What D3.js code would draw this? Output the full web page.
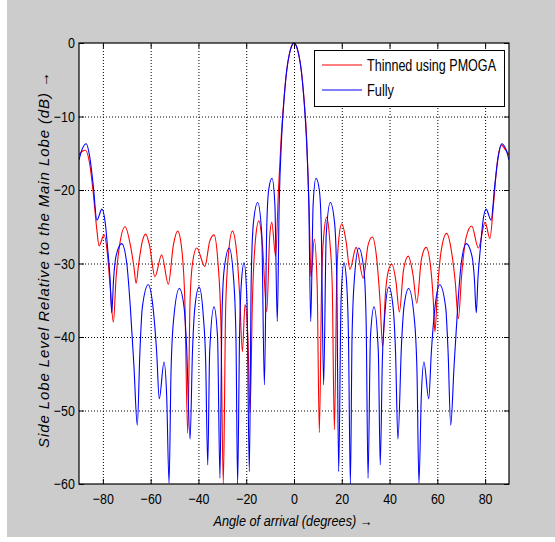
<!DOCTYPE html>
<html><head><meta charset="utf-8">
<script src="https://cdn.jsdelivr.net/npm/d3@7"></script>
<style>body{margin:0;background:#fff}svg{display:block}</style>
</head><body><svg id="c" width="555" height="542"></svg>
<script>
const xTicks=[-80,-60,-40,-20,0,20,40,60,80];
const yTicks=[-60,-50,-40,-30,-20,-10,0];
const seriesNames=["Thinned using PMOGA","Fully"];
const seriesColors=["#ff0000","#0000ff"];

const thinnedAngle=[-90,-88.5,-87.3,-85.5,-84,-82.5,-81.6,-79.5,-78,-77,-75.6,-74.5,-73,-70.7,-68.5,-67,-66.1,-65,-63.5,-62.1,-60.5,-58.2,-55.4,-52.6,-50.5,-48.7,-47,-45.7,-44.5,-43.5,-42.5,-40.7,-37.3,-35.3,-33.5,-31.8,-30.6,-29.6,-28.6,-27.5,-25.8,-24,-22.8,-21.6,-20.5,-19.3,-18.4,-17.4,-16.2,-14.7,-13.2,-11.4,-10.2,-9.3,-7.7,-6.5,-5.3,-4,-3,-2,-1,0,1,2,3,4,5.3,6.3,7.1,8.5,9.7,10.6,11.6,12.5,13.7,15,16,16.9,17.9,18.8,20,21.8,23.4,26,29,31,32.8,34.5,36,37.1,38.3,39.5,40.9,42.7,44.1,45.8,47.8,49.8,51.4,53.3,55.3,57.2,58.3,59,60,61.5,63.9,66,67.5,68.8,70.2,72,74.4,77.2,80,82,83.5,85,86.8,88.5,90];
const thinnedDb=[-15.2,-14.7,-14.6,-16.5,-20.5,-25.5,-27.6,-26.1,-29,-33,-38,-32,-27.5,-25,-27.5,-30.5,-32.7,-30,-27,-26,-27.5,-31.8,-28.8,-32.8,-27.5,-25.6,-28,-35,-53.1,-35,-30,-27.9,-30.4,-27,-26.1,-30,-38,-60,-36,-29,-25.6,-28.5,-34,-42,-35.6,-40,-50.3,-35,-27,-24.2,-27.5,-36.6,-26.5,-24.4,-29,-20,-12.5,-6.8,-3.6,-1.6,-0.4,0,-0.4,-1.6,-3.6,-6.8,-13,-22,-31.8,-26.7,-33,-53,-32,-26,-23.7,-27,-33,-52.6,-32,-26.5,-24.6,-27,-30.8,-27.8,-32,-27.5,-26.4,-29,-35,-41.3,-34,-31,-30.1,-32.5,-36.6,-31,-29,-31.5,-35.4,-29.5,-27.8,-30.5,-35,-39.3,-34,-28.5,-25.9,-28.5,-32.5,-37.5,-31.5,-26.5,-24.9,-27.9,-24.4,-26.6,-22,-16.5,-13.9,-14.5,-15.2];

const fullyAngle=[-90,-88.5,-87,-85.5,-84,-82.5,-80.4,-79,-78,-77,-76.3,-75.5,-74.5,-72.1,-70,-68.5,-67,-65.6,-64.5,-63.5,-61,-59,-57.5,-56.4,-54.4,-53.3,-52.3,-51.5,-50.5,-48,-46,-45,-43.5,-42.5,-41.5,-39.7,-38,-37,-36.1,-35.3,-33.5,-32,-31,-30.2,-29.3,-27.1,-25.3,-24.3,-23.6,-22.8,-22,-20.9,-19.7,-18.7,-17.9,-17,-15.2,-13.5,-12.4,-11.4,-10.6,-9.2,-8,-7,-6.2,-5.2,-4,-3,-2,-1,0,1,2,3,4,5.2,6.2,7,8,9.2,10.6,11.4,12.4,13.5,15.2,17,17.9,18.7,19.7,20.9,22,22.8,23.6,24.3,25.3,27.1,29.3,30.2,31,32,33.5,35.3,36.1,37,38,39.7,41.5,42.5,43.5,45,46,48,50.5,51.5,52.3,53.3,54.4,56.4,57.5,59,61,63.5,64.5,65.6,67,68.5,70,72.1,74.5,75.5,76.3,77,78,79,80.4,82.5,84,85.5,87,88.5,90];
const fullyDb=[-15.9,-14.3,-13.7,-15.5,-19.5,-24.1,-22.6,-24.5,-28,-32,-36.7,-32,-29,-27.3,-30,-36,-44,-52,-42,-36,-32.9,-36,-42,-48.4,-43.4,-48,-59.9,-45,-38,-33.4,-36,-41,-53.9,-42,-36,-33.2,-37,-43,-57.4,-42,-35.9,-40,-59.2,-38,-31,-27.9,-32,-40,-60,-40,-32.5,-29.9,-35,-58.3,-32,-24.5,-21.7,-26,-46.5,-25,-20,-18.4,-22,-37.9,-22,-13,-7,-3.6,-1.6,-0.4,0,-0.4,-1.6,-3.6,-7,-13,-22,-37.9,-22,-18.4,-20,-25,-46.5,-26,-21.7,-24.5,-32,-58.3,-35,-29.9,-32.5,-40,-60,-40,-32,-27.9,-31,-38,-59.2,-40,-35.9,-42,-57.4,-43,-37,-33.2,-36,-42,-53.9,-41,-36,-33.4,-38,-45,-59.9,-48,-43.4,-48.4,-42,-36,-32.9,-36,-42,-52,-44,-36,-30,-27.3,-29,-32,-36.7,-32,-28,-24.5,-22.6,-24.1,-19.5,-15.5,-13.7,-14.3,-15.9];

const W=555,H=542;
const L=79,R=509,T=43,B=484;
const svg=d3.select("#c");
svg.append("rect").attr("x",0).attr("y",0).attr("width",W).attr("height",H).attr("fill","#ffffff");
svg.append("rect").attr("x",7).attr("y",0).attr("width",W-7).attr("height",H-5).attr("fill","#cccccc");
svg.append("rect").attr("x",L).attr("y",T).attr("width",R-L).attr("height",B-T).attr("fill","#fff");

const x=d3.scaleLinear().domain([-90,90]).range([L,R]);
const y=d3.scaleLinear().domain([-60,0]).range([B,T]);
const font="'Liberation Sans', Arial, Helvetica, sans-serif";

// grid
const gx=svg.append("g").attr("transform",`translate(0,${B})`)
  .call(d3.axisBottom(x).tickValues(xTicks).tickSize(-(B-T)).tickFormat(""));
gx.select(".domain").remove();
gx.selectAll("line").attr("stroke","#000").attr("stroke-dasharray","1,2").attr("stroke-width",1);
const gy=svg.append("g").attr("transform",`translate(${L},0)`)
  .call(d3.axisLeft(y).tickValues(yTicks.filter(v=>v>-60&&v<0)).tickSize(-(R-L)).tickFormat(""));
gy.select(".domain").remove();
gy.selectAll("line").attr("stroke","#000").attr("stroke-dasharray","1,2").attr("stroke-width",1);

// lines
svg.append("clipPath").attr("id","pc").append("rect").attr("x",L).attr("y",T-2).attr("width",R-L).attr("height",B-T+2);
const line=d3.line().x(d=>x(d[0])).y(d=>y(d[1])).curve(d3.curveMonotoneX);
const thinned=thinnedAngle.map((a,i)=>[a,thinnedDb[i]]);
const fully=fullyAngle.map((a,i)=>[a,fullyDb[i]]);
[thinned,fully].forEach((s,i)=>{
  svg.append("path").attr("clip-path","url(#pc)").attr("d",line(s))
    .attr("fill","none").attr("stroke",seriesColors[i]).attr("stroke-width",1.1);
});

// axes ticks
function styleAxis(g){
  g.select(".domain").remove();
  g.selectAll("line").attr("stroke","#000");
  g.selectAll("text").attr("font-family",font).attr("font-size",15).attr("fill","#000");
}
const ab=svg.append("g").attr("transform",`translate(0,${B})`)
  .call(d3.axisBottom(x).tickValues(xTicks).tickSize(-5).tickPadding(9).tickFormat(d3.format("d")));
styleAxis(ab);
ab.selectAll("text").attr("transform","scale(0.83,1)");
const at=svg.append("g").attr("transform",`translate(0,${T})`)
  .call(d3.axisTop(x).tickValues(xTicks).tickSize(-5).tickFormat(""));
styleAxis(at);
const al=svg.append("g").attr("transform",`translate(${L},0)`)
  .call(d3.axisLeft(y).tickValues(yTicks).tickSize(-5).tickPadding(5).tickFormat(d3.format("d")));
styleAxis(al);
al.selectAll("text").attr("transform","scale(0.83,1)");
const ar=svg.append("g").attr("transform",`translate(${R},0)`)
  .call(d3.axisRight(y).tickValues(yTicks).tickSize(-5).tickFormat(""));
styleAxis(ar);

// box
svg.append("rect").attr("x",L).attr("y",T).attr("width",R-L).attr("height",B-T)
  .attr("fill","none").attr("stroke","#000").attr("stroke-width",1.2);

// legend
const lg=svg.append("g");
lg.append("rect").attr("x",314.5).attr("y",50.5).attr("width",190).attr("height",56)
  .attr("fill","#fff").attr("stroke","#000").attr("stroke-width",1);
const legY=[65,90];
const legW=[129,27];
seriesNames.forEach((n,i)=>{
  lg.append("line").attr("x1",322).attr("x2",362).attr("y1",legY[i]).attr("y2",legY[i])
    .attr("stroke",seriesColors[i]).attr("stroke-width",1.1);
  lg.append("text").attr("x",367).attr("y",legY[i]+6).attr("font-family",font).attr("font-size",16)
    .attr("textLength",legW[i]).attr("lengthAdjust","spacingAndGlyphs").text(n);
});

// axis labels
svg.append("text").attr("x",293).attr("y",526).attr("text-anchor","middle")
  .attr("font-family",font).attr("font-size",14).attr("font-style","italic")
  .attr("textLength",159).attr("lengthAdjust","spacingAndGlyphs")
  .text("Angle of arrival (degrees) \u2192");
svg.append("text").attr("transform","translate(49,260) rotate(-90)").attr("text-anchor","middle")
  .attr("font-family",font).attr("font-size",15).attr("font-style","italic")
  .attr("textLength",376).attr("lengthAdjust","spacing")
  .text("Side Lobe Level Relative to the Main Lobe (dB) \u2192");
</script></body></html>
